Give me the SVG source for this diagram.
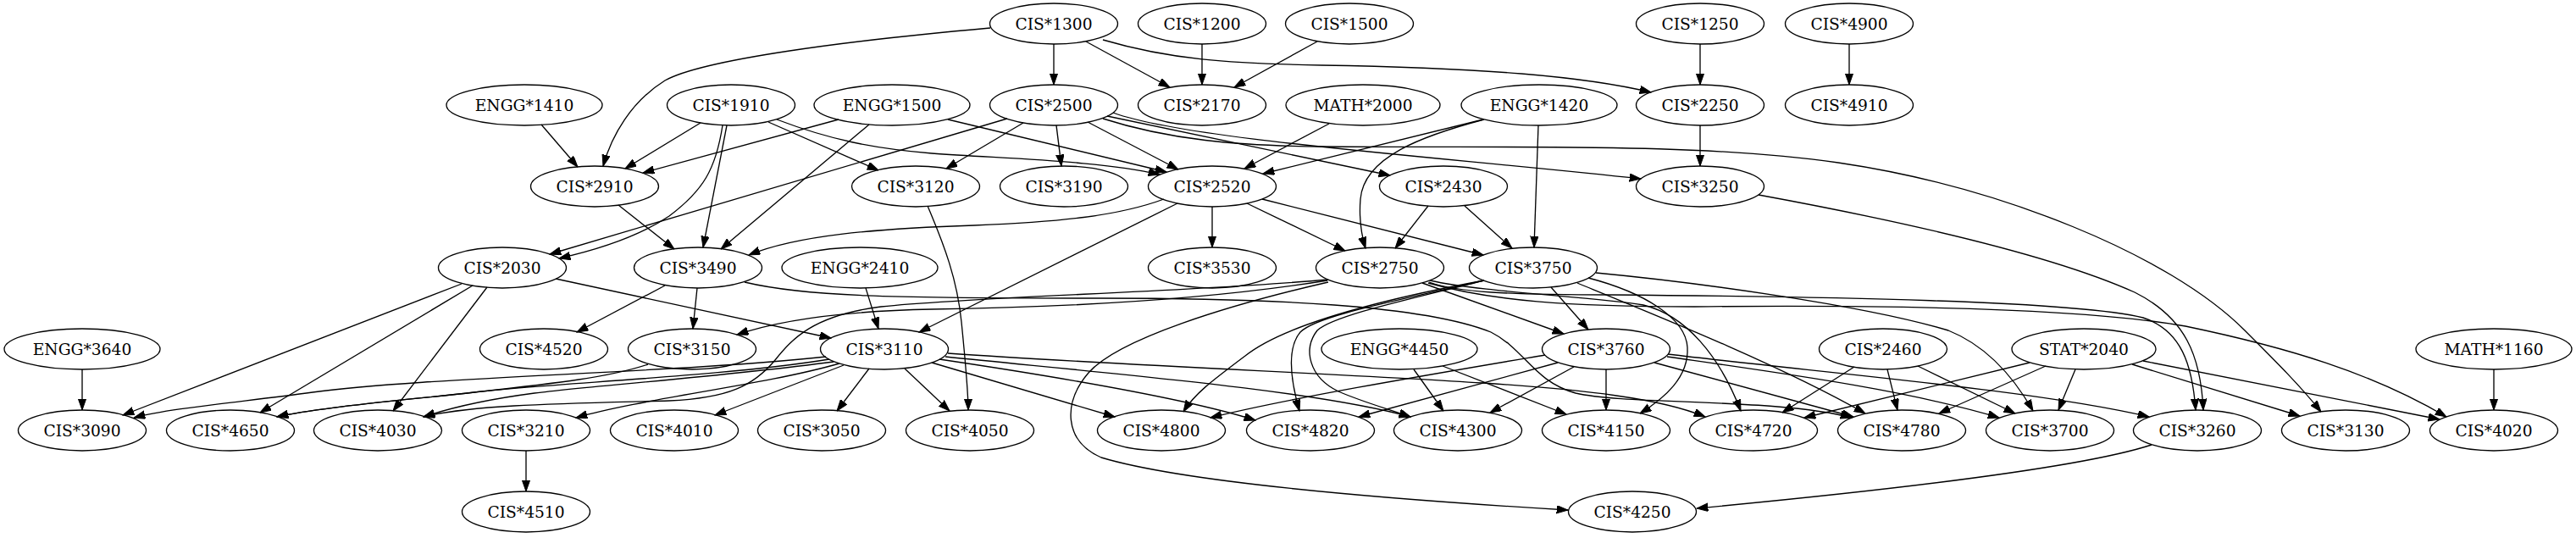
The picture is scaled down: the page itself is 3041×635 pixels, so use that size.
<svg xmlns="http://www.w3.org/2000/svg" width="3041" height="635" viewBox="0 0 3041 635">
<style>
.node ellipse{fill:none;stroke:#000;stroke-width:1.33}
.node text{font-family:"DejaVu Serif","Liberation Serif",serif;font-size:18.67px;text-anchor:middle;fill:#000}
.edges path{fill:none;stroke:#000;stroke-width:1.33;marker-end:url(#arr)}
</style>
<defs>
<marker id="arr" markerUnits="userSpaceOnUse" markerWidth="14" markerHeight="10" refX="13.33" refY="4.67" orient="auto">
<path d="M0,0 L13.33,4.67 L0,9.33 z" fill="#000" stroke="#000" stroke-width="1"/>
</marker>
</defs>
<rect x="0" y="0" width="3041" height="635" fill="#fff"/>
<g class="edges" id="edges">
<path d="M1244,52 L1244,100"/>
<path d="M1282,49 L1381,103"/>
<path d="M1419,52 L1419,100"/>
<path d="M1555,49 L1457,103"/>
<path d="M1169,33 C1000,48 830,70 785,95 C745,120 722,160 712,196"/>
<path d="M1302,47 C1380,70 1450,75 1560,77 C1750,80 1870,90 1949,109"/>
<path d="M2007,52 L2007,100"/>
<path d="M2183,52 L2183,100"/>
<path d="M639,147 L682,197"/>
<path d="M827,145 L738,199"/>
<path d="M990,141 L759,204"/>
<path d="M907,144 L1037,201"/>
<path d="M917,141 C980,165 1030,175 1100,181 C1200,188 1300,190 1369,206"/>
<path d="M858,148 L830,292"/>
<path d="M853,148 C845,200 830,225 790,255 C750,282 700,296 660,305"/>
<path d="M1189,140 L649,300"/>
<path d="M1119,141 L1377,203"/>
<path d="M1026,147 L851,294"/>
<path d="M1208,145 L1117,199"/>
<path d="M1247,148 L1253,196"/>
<path d="M1284,144 L1391,200"/>
<path d="M1307,137 L1641,207"/>
<path d="M1314,133 C1400,165 1700,185 1937,211"/>
<path d="M1302,140 C1380,165 1460,172 1560,173 C1800,175 2000,168 2170,192 C2360,220 2560,300 2650,390 C2690,430 2715,455 2740,486"/>
<path d="M1374,235 C1320,255 1250,262 1150,266 C1030,270 940,278 884,301"/>
<path d="M1431,244 L1431,292"/>
<path d="M1390,240 L1085,392"/>
<path d="M1472,240 L1588,296"/>
<path d="M1490,235 L1751,301"/>
<path d="M1569,146 L1469,199"/>
<path d="M1751,141 L1491,205"/>
<path d="M1752,141 C1680,160 1610,185 1606,235 C1604,260 1608,280 1612,293"/>
<path d="M1816,148 L1811,292"/>
<path d="M1686,243 L1647,293"/>
<path d="M1729,243 L1785,293"/>
<path d="M2007,148 L2007,196"/>
<path d="M2076,230 C2250,262 2420,300 2520,345 C2580,375 2598,420 2601,484"/>
<path d="M730,242 L796,294"/>
<path d="M545,335 L145,490"/>
<path d="M558,337 L307,487"/>
<path d="M575,339 L464,485"/>
<path d="M656,329 L981,399"/>
<path d="M785,337 L681,392"/>
<path d="M823,340 L818,388"/>
<path d="M879,333 C950,350 1050,352 1300,352 C1500,352 1680,360 1760,392 C1800,412 1810,450 1860,464 C1920,478 2100,470 2186,493"/>
<path d="M1022,340 L1037,388"/>
<path d="M1095,243 C1115,290 1130,330 1135,380 C1140,430 1143,460 1143,484"/>
<path d="M975,421 C800,440 500,445 369,463 C280,475 200,482 158,493"/>
<path d="M979,424 C850,445 650,452 560,463 C450,475 370,482 327,492"/>
<path d="M765,430 C720,445 660,452 560,463 C450,475 370,482 327,492"/>
<path d="M984,427 C850,445 700,455 631,464 C570,472 530,482 500,492"/>
<path d="M1568,330 C1400,345 1150,350 1040,362 C960,372 935,400 915,425 C890,455 860,470 790,473 C680,476 560,477 500,492"/>
<path d="M1567,331 C1450,350 1300,362 1100,365 C1000,367 920,378 870,395"/>
<path d="M1568,333 C1450,360 1320,400 1285,440 C1255,475 1255,520 1300,540 C1400,570 1650,590 1851,602"/>
<path d="M2540,525 C2470,548 2300,572 2003,600"/>
<path d="M996,431 L844,490"/>
<path d="M1026,435 L988,485"/>
<path d="M1068,435 L1121,485"/>
<path d="M991,429 C900,455 760,470 680,493"/>
<path d="M1100,428 L1316,492"/>
<path d="M1109,424 C1250,445 1400,470 1482,496"/>
<path d="M1116,421 C1300,440 1550,460 1665,492"/>
<path d="M1119,417 C1300,430 1600,442 1750,452 C1870,460 1960,470 2013,492"/>
<path d="M1752,331 C1650,350 1520,380 1470,420 C1430,450 1410,465 1397,486"/>
<path d="M1752,331 C1650,355 1555,372 1535,392 C1518,412 1524,450 1534,485"/>
<path d="M1752,331 C1665,353 1575,372 1555,390 C1538,412 1545,445 1580,462 C1610,475 1640,483 1665,492"/>
<path d="M1824,419 C1700,440 1520,470 1429,493"/>
<path d="M1839,428 L1604,492"/>
<path d="M1858,433 L1759,487"/>
<path d="M1896,436 L1896,484"/>
<path d="M1669,436 L1704,485"/>
<path d="M1703,432 L1849,489"/>
<path d="M1875,328 C1940,345 1990,375 1992,410 C1994,445 1965,470 1936,488"/>
<path d="M1862,334 C1950,370 2100,430 2202,488"/>
<path d="M1884,322 C2000,333 2200,360 2300,390 C2350,410 2380,450 2400,485"/>
<path d="M1679,334 L1846,394"/>
<path d="M1831,339 L1875,389"/>
<path d="M1688,331 C1750,345 1880,350 1940,360 C1990,372 2030,420 2055,485"/>
<path d="M1687,333 C1720,345 1780,348 1900,348 C2150,350 2450,355 2530,375 C2575,390 2588,430 2592,484"/>
<path d="M1686,334 C1760,355 1850,362 2000,362 C2200,360 2450,362 2580,385 C2700,410 2800,440 2888,492"/>
<path d="M1969,418 C2150,440 2400,460 2537,492"/>
<path d="M1968,421 C2100,440 2250,460 2360,493"/>
<path d="M1953,428 L2188,492"/>
<path d="M2189,433 L2104,487"/>
<path d="M2228,436 L2240,484"/>
<path d="M2264,432 L2379,488"/>
<path d="M2396,428 L2130,493"/>
<path d="M2415,432 L2289,488"/>
<path d="M2450,436 L2430,484"/>
<path d="M2517,430 L2715,491"/>
<path d="M2530,426 L2880,495"/>
<path d="M2944,436 L2944,484"/>
<path d="M621,532 L621,580"/>
<path d="M97,436 L97,484"/>
</g>
<g id="CIS1300" class="node"><ellipse cx="1244" cy="28" rx="75.5" ry="24"/><text x="1244" y="34.5">CIS*1300</text></g>
<g id="CIS1200" class="node"><ellipse cx="1419" cy="28" rx="75.5" ry="24"/><text x="1419" y="34.5">CIS*1200</text></g>
<g id="CIS1500" class="node"><ellipse cx="1593" cy="28" rx="75.5" ry="24"/><text x="1593" y="34.5">CIS*1500</text></g>
<g id="CIS1250" class="node"><ellipse cx="2007" cy="28" rx="75.5" ry="24"/><text x="2007" y="34.5">CIS*1250</text></g>
<g id="CIS4900" class="node"><ellipse cx="2183" cy="28" rx="75.5" ry="24"/><text x="2183" y="34.5">CIS*4900</text></g>
<g id="ENGG1410" class="node"><ellipse cx="619" cy="124" rx="92" ry="24"/><text x="619" y="130.5">ENGG*1410</text></g>
<g id="CIS1910" class="node"><ellipse cx="863" cy="124" rx="75.5" ry="24"/><text x="863" y="130.5">CIS*1910</text></g>
<g id="ENGG1500" class="node"><ellipse cx="1053" cy="124" rx="92" ry="24"/><text x="1053" y="130.5">ENGG*1500</text></g>
<g id="CIS2500" class="node"><ellipse cx="1244" cy="124" rx="75.5" ry="24"/><text x="1244" y="130.5">CIS*2500</text></g>
<g id="CIS2170" class="node"><ellipse cx="1419" cy="124" rx="75.5" ry="24"/><text x="1419" y="130.5">CIS*2170</text></g>
<g id="MATH2000" class="node"><ellipse cx="1609" cy="124" rx="91" ry="24"/><text x="1609" y="130.5">MATH*2000</text></g>
<g id="ENGG1420" class="node"><ellipse cx="1817" cy="124" rx="92" ry="24"/><text x="1817" y="130.5">ENGG*1420</text></g>
<g id="CIS2250" class="node"><ellipse cx="2007" cy="124" rx="75.5" ry="24"/><text x="2007" y="130.5">CIS*2250</text></g>
<g id="CIS4910" class="node"><ellipse cx="2183" cy="124" rx="75.5" ry="24"/><text x="2183" y="130.5">CIS*4910</text></g>
<g id="CIS2910" class="node"><ellipse cx="702" cy="220" rx="75.5" ry="24"/><text x="702" y="226.5">CIS*2910</text></g>
<g id="CIS3120" class="node"><ellipse cx="1081" cy="220" rx="75.5" ry="24"/><text x="1081" y="226.5">CIS*3120</text></g>
<g id="CIS3190" class="node"><ellipse cx="1256" cy="220" rx="75.5" ry="24"/><text x="1256" y="226.5">CIS*3190</text></g>
<g id="CIS2520" class="node"><ellipse cx="1431" cy="220" rx="75.5" ry="24"/><text x="1431" y="226.5">CIS*2520</text></g>
<g id="CIS2430" class="node"><ellipse cx="1704" cy="220" rx="75.5" ry="24"/><text x="1704" y="226.5">CIS*2430</text></g>
<g id="CIS3250" class="node"><ellipse cx="2007" cy="220" rx="75.5" ry="24"/><text x="2007" y="226.5">CIS*3250</text></g>
<g id="CIS2030" class="node"><ellipse cx="593" cy="316" rx="75.5" ry="24"/><text x="593" y="322.5">CIS*2030</text></g>
<g id="CIS3490" class="node"><ellipse cx="824" cy="316" rx="75.5" ry="24"/><text x="824" y="322.5">CIS*3490</text></g>
<g id="ENGG2410" class="node"><ellipse cx="1015" cy="316" rx="92" ry="24"/><text x="1015" y="322.5">ENGG*2410</text></g>
<g id="CIS3530" class="node"><ellipse cx="1431" cy="316" rx="75.5" ry="24"/><text x="1431" y="322.5">CIS*3530</text></g>
<g id="CIS2750" class="node"><ellipse cx="1629" cy="316" rx="75.5" ry="24"/><text x="1629" y="322.5">CIS*2750</text></g>
<g id="CIS3750" class="node"><ellipse cx="1810" cy="316" rx="75.5" ry="24"/><text x="1810" y="322.5">CIS*3750</text></g>
<g id="ENGG3640" class="node"><ellipse cx="97" cy="412" rx="92" ry="24"/><text x="97" y="418.5">ENGG*3640</text></g>
<g id="CIS4520" class="node"><ellipse cx="642" cy="412" rx="75.5" ry="24"/><text x="642" y="418.5">CIS*4520</text></g>
<g id="CIS3150" class="node"><ellipse cx="817" cy="412" rx="75.5" ry="24"/><text x="817" y="418.5">CIS*3150</text></g>
<g id="CIS3110" class="node"><ellipse cx="1044" cy="412" rx="75.5" ry="24"/><text x="1044" y="418.5">CIS*3110</text></g>
<g id="ENGG4450" class="node"><ellipse cx="1652" cy="412" rx="92" ry="24"/><text x="1652" y="418.5">ENGG*4450</text></g>
<g id="CIS3760" class="node"><ellipse cx="1896" cy="412" rx="75.5" ry="24"/><text x="1896" y="418.5">CIS*3760</text></g>
<g id="CIS2460" class="node"><ellipse cx="2223" cy="412" rx="75.5" ry="24"/><text x="2223" y="418.5">CIS*2460</text></g>
<g id="STAT2040" class="node"><ellipse cx="2460" cy="412" rx="85" ry="24"/><text x="2460" y="418.5">STAT*2040</text></g>
<g id="MATH1160" class="node"><ellipse cx="2944" cy="412" rx="92" ry="24"/><text x="2944" y="418.5">MATH*1160</text></g>
<g id="CIS3090" class="node"><ellipse cx="97" cy="508" rx="75.5" ry="24"/><text x="97" y="514.5">CIS*3090</text></g>
<g id="CIS4650" class="node"><ellipse cx="272" cy="508" rx="75.5" ry="24"/><text x="272" y="514.5">CIS*4650</text></g>
<g id="CIS4030" class="node"><ellipse cx="446" cy="508" rx="75.5" ry="24"/><text x="446" y="514.5">CIS*4030</text></g>
<g id="CIS3210" class="node"><ellipse cx="621" cy="508" rx="75.5" ry="24"/><text x="621" y="514.5">CIS*3210</text></g>
<g id="CIS4010" class="node"><ellipse cx="796" cy="508" rx="75.5" ry="24"/><text x="796" y="514.5">CIS*4010</text></g>
<g id="CIS3050" class="node"><ellipse cx="970" cy="508" rx="75.5" ry="24"/><text x="970" y="514.5">CIS*3050</text></g>
<g id="CIS4050" class="node"><ellipse cx="1145" cy="508" rx="75.5" ry="24"/><text x="1145" y="514.5">CIS*4050</text></g>
<g id="CIS4800" class="node"><ellipse cx="1371" cy="508" rx="75.5" ry="24"/><text x="1371" y="514.5">CIS*4800</text></g>
<g id="CIS4820" class="node"><ellipse cx="1547" cy="508" rx="75.5" ry="24"/><text x="1547" y="514.5">CIS*4820</text></g>
<g id="CIS4300" class="node"><ellipse cx="1721" cy="508" rx="75.5" ry="24"/><text x="1721" y="514.5">CIS*4300</text></g>
<g id="CIS4150" class="node"><ellipse cx="1896" cy="508" rx="75.5" ry="24"/><text x="1896" y="514.5">CIS*4150</text></g>
<g id="CIS4720" class="node"><ellipse cx="2070" cy="508" rx="75.5" ry="24"/><text x="2070" y="514.5">CIS*4720</text></g>
<g id="CIS4780" class="node"><ellipse cx="2245" cy="508" rx="75.5" ry="24"/><text x="2245" y="514.5">CIS*4780</text></g>
<g id="CIS3700" class="node"><ellipse cx="2420" cy="508" rx="75.5" ry="24"/><text x="2420" y="514.5">CIS*3700</text></g>
<g id="CIS3260" class="node"><ellipse cx="2594" cy="508" rx="75.5" ry="24"/><text x="2594" y="514.5">CIS*3260</text></g>
<g id="CIS3130" class="node"><ellipse cx="2769" cy="508" rx="75.5" ry="24"/><text x="2769" y="514.5">CIS*3130</text></g>
<g id="CIS4020" class="node"><ellipse cx="2944" cy="508" rx="75.5" ry="24"/><text x="2944" y="514.5">CIS*4020</text></g>
<g id="CIS4510" class="node"><ellipse cx="621" cy="604" rx="75.5" ry="24"/><text x="621" y="610.5">CIS*4510</text></g>
<g id="CIS4250" class="node"><ellipse cx="1927" cy="604" rx="75.5" ry="24"/><text x="1927" y="610.5">CIS*4250</text></g>
</svg>
